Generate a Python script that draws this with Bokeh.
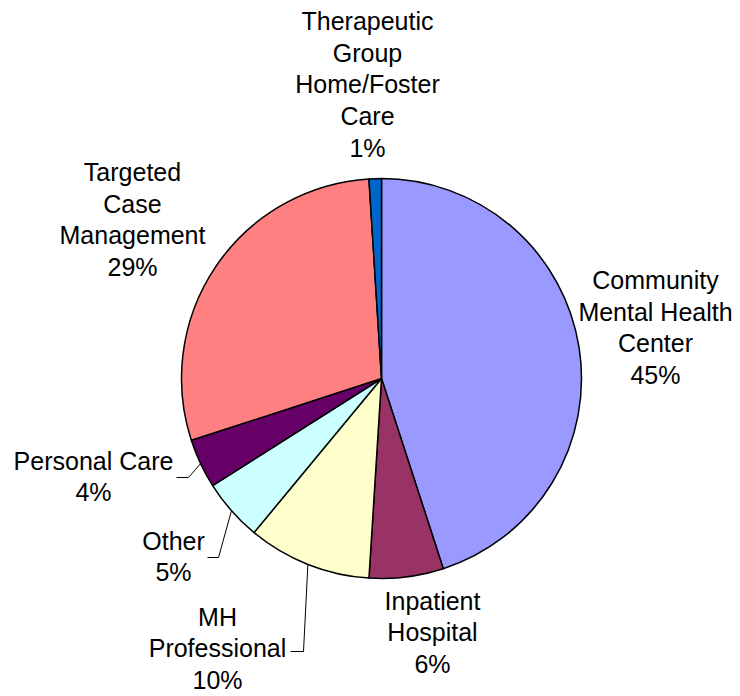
import math
from bokeh.plotting import figure
from bokeh.models import ColumnDataSource, Range1d
from bokeh.core.properties import value
from bokeh.embed import file_html
from bokeh.resources import INLINE

# ---- data ----
categories = ["Community\nMental Health\nCenter", "Inpatient\nHospital", "MH\nProfessional",
              "Other", "Personal Care", "Targeted\nCase\nManagement",
              "Therapeutic\nGroup\nHome/Foster\nCare"]
percents = [45, 6, 10, 5, 4, 29, 1]
colors = ["#9999FF", "#993366", "#FFFFCC", "#CCFFFF", "#660066", "#FF8080", "#0066CC"]

# ---- layout (page pixel coords) ----
W, H = 740, 696
def px(X): return X
def py(Y): return H - Y

CX, CY, R = px(381), py(378), 200
# label block centres (page px)
label_pos = [(655, 327), (432, 632), (217, 648), (173, 556), (93, 476), (132, 219), (367, 84)]
# leader elbows for small slices: (end x, elbow x, y) page px, None = no leader
leaders = [None, None, (290, 303, 651), (207, 218, 557), (176, 188, 477), None, None]

total = sum(percents)
starts, ends, mids = [], [], []
cum = 0.0
for v in percents:
    a0 = math.pi / 2 - 2 * math.pi * cum / total
    cum += v
    a1 = math.pi / 2 - 2 * math.pi * cum / total
    starts.append(a1)
    ends.append(a0)
    mids.append((a0 + a1) / 2)

p = figure(width=W, height=H, output_backend="svg", toolbar_location=None,
           x_range=Range1d(0, W), y_range=Range1d(0, H), min_border=0,
           outline_line_color=None)
p.axis.visible = False
p.grid.visible = False
p.background_fill_color = "white"
p.border_fill_color = "white"

src = ColumnDataSource(dict(start=starts, end=ends, color=colors))
p.wedge(x=CX, y=CY, radius=R, start_angle="start", end_angle="end",
        fill_color="color", line_color="black", line_width=1.5, source=src)

# leader lines
for i, ld in enumerate(leaders):
    if ld is None:
        continue
    ax = CX + R * math.cos(mids[i])
    ay = CY + R * math.sin(mids[i])
    xe, xb, yl = ld
    p.line([px(xe), px(xb), ax], [py(yl), py(yl), ay], line_color="black", line_width=1)

labels = [f"{c}\n{v}%" for c, v in zip(categories, percents)]
lsrc = ColumnDataSource(dict(x=[px(a) for a, b in label_pos], y=[py(b) for a, b in label_pos], t=labels))
p.text(x="x", y="y", text="t", source=lsrc, text_align="center", text_baseline="middle",
       text_font=value("Liberation Sans"), text_font_size="25px", text_color="black",
       text_line_height=1.14)

open("out.html", "w").write(file_html(p, INLINE))
